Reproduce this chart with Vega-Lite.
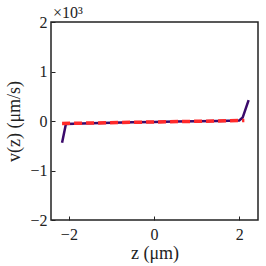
{
  "$schema": "https://vega.github.io/schema/vega-lite/v6.json",
  "autosize": "none",
  "width": 207,
  "height": 198,
  "padding": {"left": 51, "top": 22, "right": 8, "bottom": 46},
  "background": "white",
  "config": {
    "view": {"stroke": "#222", "strokeWidth": 1.5},
    "font": "Liberation Serif",
    "axis": {
      "labelFont": "Liberation Serif",
      "titleFont": "Liberation Serif",
      "labelFontSize": 16,
      "titleFontSize": 18,
      "labelColor": "#222",
      "titleColor": "#222",
      "titleFontWeight": "normal",
      "grid": false,
      "domain": false,
      "tickColor": "#222",
      "tickSize": -4,
      "tickWidth": 1
    }
  },
  "datasets": {
    "profile": [
      {"z": -2.16, "v": -440, "series": "sim"},
      {"z": -2.07, "v": -60, "series": "sim"},
      {"z": -1.5, "v": -45, "series": "sim"},
      {"z": -1.0, "v": -35, "series": "sim"},
      {"z": -0.5, "v": -27, "series": "sim"},
      {"z": 0.0, "v": -20, "series": "sim"},
      {"z": 0.5, "v": -12, "series": "sim"},
      {"z": 1.0, "v": -5, "series": "sim"},
      {"z": 1.5, "v": 2, "series": "sim"},
      {"z": 2.0, "v": 12, "series": "sim"},
      {"z": 2.08, "v": 70, "series": "sim"},
      {"z": 2.22, "v": 420, "series": "sim"},
      {"z": -2.16, "v": -50, "series": "fit"},
      {"z": 2.12, "v": 10, "series": "fit"}
    ],
    "offset": [
      {"z": -2.42, "v": 2000, "label": "×10³"}
    ]
  },
  "layer": [
    {
      "data": {"name": "profile"},
      "transform": [{"filter": "datum.series == 'sim'"}],
      "mark": {"type": "line", "color": "#3b0a6b", "strokeWidth": 2.5},
      "encoding": {
        "x": {
          "field": "z", "type": "quantitative",
          "scale": {"domain": [-2.42, 2.44], "nice": false, "zero": false},
          "axis": {"values": [-2, 0, 2], "title": "z  (μm)", "labelExpr": "replace(datum.label, '-', '−')", "labelPadding": 10, "titlePadding": 2}
        },
        "y": {
          "field": "v", "type": "quantitative",
          "scale": {"domain": [-2000, 2000], "nice": false},
          "axis": {"values": [-2000, -1000, 0, 1000, 2000], "title": "v(z)  (μm/s)", "labelExpr": "replace(format(datum.value/1000, 'd'), '-', '−')", "labelPadding": 8, "titlePadding": 6}
        }
      }
    },
    {
      "data": {"name": "profile"},
      "transform": [{"filter": "datum.series == 'fit'"}],
      "mark": {"type": "line", "color": "#ff2a2a", "strokeWidth": 3.5, "strokeDash": [8, 4]},
      "encoding": {
        "x": {"field": "z", "type": "quantitative"},
        "y": {"field": "v", "type": "quantitative"}
      }
    },
    {
      "data": {"name": "offset"},
      "mark": {"type": "text", "align": "left", "baseline": "alphabetic", "dx": 2, "dy": -4, "fontSize": 16, "font": "Liberation Serif", "color": "#222"},
      "encoding": {
        "x": {"field": "z", "type": "quantitative"},
        "y": {"field": "v", "type": "quantitative"},
        "text": {"field": "label"}
      }
    }
  ]
}
